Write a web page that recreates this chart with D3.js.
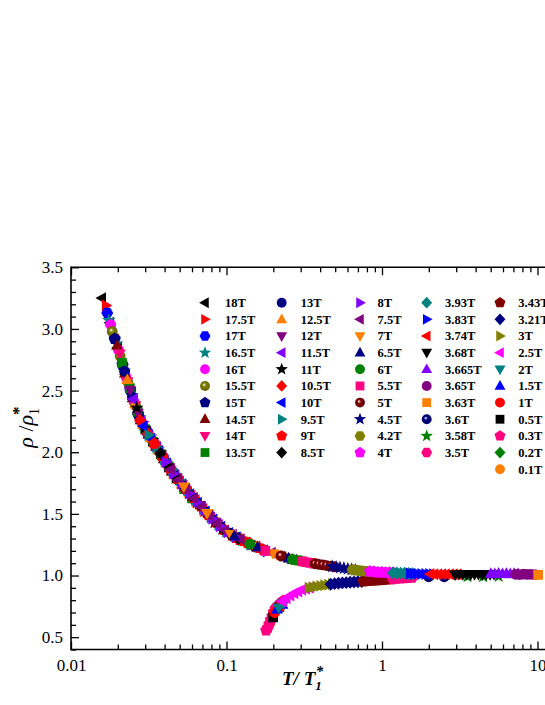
<!DOCTYPE html>
<html>
<head>
<meta charset="utf-8">
<script src="https://cdn.jsdelivr.net/npm/d3@7"></script>
<style>
body { margin: 0; background: #fff; }
text { font-family: "Liberation Serif", "Times New Roman", serif; }
</style>
</head>
<body>
<svg id="chart" width="545" height="705"></svg>
<script>
// T/T1* , rho/rho1*  (one array per field)
var b18 = [[0.0158,3.25],[0.0178,3.05],[0.0200,2.85],[0.0224,2.63],[0.0251,2.43],[0.0282,2.25],[0.0316,2.14],[0.0355,2.04]];
var b17_5 = [[0.0168,3.19],[0.0188,2.95],[0.0211,2.74],[0.0237,2.53],[0.0266,2.34],[0.0299,2.19],[0.0335,2.09],[0.0376,1.99],[0.0422,1.89]];
var b17 = [[0.0171,3.13],[0.0191,2.92],[0.0215,2.71],[0.0241,2.50],[0.0270,2.31],[0.0303,2.18],[0.0340,2.075],[0.0382,1.975],[0.0429,1.875]];
var b16_5 = [[0.0175,3.07],[0.0196,2.88],[0.0220,2.66],[0.0247,2.46],[0.0277,2.28],[0.0311,2.155],[0.0349,2.055],[0.0392,1.955],[0.0440,1.855]];
var b16 = [[0.0180,3.035],[0.0202,2.83],[0.0226,2.61],[0.0254,2.41],[0.0285,2.24],[0.0320,2.13],[0.0359,2.03],[0.0403,1.93],[0.0452,1.83]];
var b15_5 = [[0.0184,2.98],[0.0207,2.78],[0.0232,2.57],[0.0260,2.38],[0.0292,2.21],[0.0327,2.11],[0.0367,2.01],[0.0412,1.91],[0.0462,1.82],[0.0519,1.735]];
var b15 = [[0.0191,2.92],[0.0214,2.71],[0.0240,2.51],[0.0270,2.31],[0.0303,2.18],[0.0340,2.075],[0.0381,1.975],[0.0428,1.88],[0.0480,1.79],[0.0538,1.71]];
var b14_5 = [[0.0198,2.865],[0.0222,2.64],[0.0249,2.44],[0.0280,2.26],[0.0314,2.145],[0.0352,2.045],[0.0395,1.945],[0.0444,1.845],[0.0498,1.78],[0.0558,1.70]];
var b14 = [[0.0206,2.80],[0.0231,2.575],[0.0259,2.38],[0.0291,2.22],[0.0327,2.11],[0.0366,2.01],[0.0411,1.91],[0.0461,1.82],[0.0518,1.74],[0.0581,1.66]];
var b13_5 = [[0.0213,2.725],[0.0239,2.52],[0.0268,2.33],[0.0301,2.185],[0.0337,2.085],[0.0378,1.985],[0.0425,1.885],[0.0476,1.795],[0.0535,1.70],[0.0600,1.625]];
var b13 = [[0.0221,2.657],[0.0248,2.45],[0.0279,2.27],[0.0313,2.15],[0.0351,2.05],[0.0394,1.95],[0.0442,1.85],[0.0495,1.77],[0.0556,1.69],[0.0624,1.615]];
var b12_5 = [[0.0230,2.587],[0.0258,2.39],[0.0290,2.225],[0.0325,2.115],[0.0365,2.015],[0.0409,1.915],[0.0459,1.82],[0.0515,1.74],[0.0578,1.665],[0.0649,1.585],[0.0728,1.51]];
var b12 = [[0.0239,2.506],[0.0269,2.32],[0.0301,2.18],[0.0338,2.08],[0.0379,1.98],[0.0426,1.88],[0.0478,1.795],[0.0536,1.715],[0.0601,1.64],[0.0675,1.57],[0.0757,1.50],[0.0849,1.435]];
var b11_5 = [[0.0251,2.43],[0.0282,2.25],[0.0316,2.14],[0.0355,2.04],[0.0398,1.94],[0.0447,1.84],[0.0501,1.76],[0.0562,1.68],[0.0631,1.61],[0.0708,1.54],[0.0794,1.47],[0.0891,1.41]];
var b11 = [[0.0265,2.36],[0.0297,2.195],[0.0333,2.095],[0.0374,1.995],[0.0420,1.88],[0.0471,1.79],[0.0528,1.725],[0.0593,1.65],[0.0665,1.58],[0.0746,1.51],[0.0838,1.43],[0.0940,1.375]];
var b10_5 = [[0.0278,2.26],[0.0312,2.15],[0.0350,2.05],[0.0393,1.95],[0.0441,1.85],[0.0494,1.77],[0.0555,1.69],[0.0622,1.62],[0.0698,1.55],[0.0783,1.48],[0.0879,1.42],[0.0986,1.365],[0.1107,1.33],[0.1250,1.295],[0.1410,1.265]];
var b10 = [[0.0292,2.21],[0.0327,2.11],[0.0367,2.01],[0.0412,1.91],[0.0462,1.82],[0.0519,1.74],[0.0582,1.66],[0.0653,1.59],[0.0733,1.52],[0.0822,1.455],[0.0923,1.395],[0.1035,1.345],[0.1161,1.31]];
var b9_5 = [[0.0316,2.14],[0.0355,2.04],[0.0398,1.94],[0.0447,1.855],[0.0501,1.775],[0.0562,1.69],[0.0631,1.61],[0.0708,1.54],[0.0794,1.47],[0.0891,1.41],[0.1000,1.355],[0.1122,1.32],[0.1259,1.285],[0.1413,1.255]];
var b9 = [[0.0343,2.07],[0.0385,1.97],[0.0432,1.87],[0.0484,1.785],[0.0543,1.705],[0.0610,1.63],[0.0684,1.56],[0.0767,1.49],[0.0861,1.43],[0.0966,1.37],[0.1084,1.325],[0.1150,1.305],[0.1216,1.29],[0.1290,1.28],[0.1365,1.265],[0.1445,1.25],[0.1531,1.235],[0.1620,1.225],[0.1720,1.21]];
var b8_5 = [[0.0376,1.99],[0.0422,1.89],[0.0473,1.80],[0.0531,1.72],[0.0596,1.645],[0.0668,1.575],[0.0750,1.505],[0.0841,1.44],[0.0944,1.38],[0.1059,1.335],[0.1189,1.30],[0.1496,1.24]];
var b8 = [[0.0407,1.92],[0.0457,1.825],[0.0513,1.745],[0.0575,1.665],[0.0646,1.595],[0.0724,1.525],[0.0813,1.46],[0.0912,1.40],[0.1023,1.35],[0.1148,1.315],[0.1445,1.25],[0.1820,1.195]];
var b7_5 = [[0.0437,1.86],[0.0490,1.775],[0.0550,1.695],[0.0617,1.625],[0.0692,1.555],[0.0776,1.485],[0.0871,1.42],[0.0977,1.365],[0.1096,1.33],[0.1230,1.295],[0.1549,1.235],[0.1738,1.205],[0.1950,1.185]];
var b7 = [[0.0531,1.72],[0.0750,1.505],[0.1059,1.335],[0.1496,1.24],[0.1995,1.18],[0.2113,1.17],[0.2239,1.16],[0.2371,1.15],[0.2512,1.14]];
var b6_5 = [[0.1122,1.32],[0.1585,1.23],[0.2371,1.15],[0.2512,1.14],[0.2661,1.13],[0.2818,1.125]];
var b6 = [[0.1413,1.255],[0.2661,1.13],[0.2818,1.125],[0.2985,1.12],[0.3162,1.11]];
var b5_5 = [[0.1778,1.20],[0.309,1.115],[0.327,1.108],[0.347,1.102],[0.367,1.097]];
var b5 = [[0.2239,1.16],[0.3715,1.096],[0.3936,1.091],[0.4169,1.086],[0.4416,1.081],[0.4677,1.076],[0.4955,1.071]];
var b4_5 = [[0.4786,1.074],[0.5070,1.069],[0.5370,1.064],[0.5689,1.059],[0.6026,1.054],[0.6383,1.049],[0.6761,1.044]];
var b4_2 = [[0.6457,1.048],[0.6839,1.043],[0.7244,1.039],[0.7674,1.036],[0.8128,1.034],[0.8610,1.031]];
var b4 = [[0.8375,1.033],[0.8872,1.030],[0.9397,1.026],[0.9954,1.025],[1.054,1.024],[1.117,1.023],[1.183,1.021]];
var b3_93 = [[1.175,1.021],[1.245,1.020],[1.318,1.019],[1.396,1.018],[1.479,1.016],[1.567,1.015]];
var b3_83 = [[1.514,1.016],[1.603,1.015],[1.698,1.014],[1.799,1.013],[1.905,1.012],[2.018,1.012],[2.138,1.011]];
var b3_74 = [[2.042,1.012],[2.163,1.011],[2.291,1.011],[2.427,1.010],[2.570,1.010],[2.723,1.010],[2.884,1.010],[3.055,1.010]];
var b3_68 = [[2.951,1.008],[3.126,1.012],[3.311,1.009],[3.508,1.011],[3.715,1.007],[3.936,1.010],[4.169,1.012],[4.416,1.008],[4.677,1.010],[4.955,1.009],[5.248,1.011]];
var b3_665 = [[5.012,1.015],[5.309,1.012],[5.623,1.016],[5.957,1.013],[6.310,1.015],[6.683,1.012],[7.079,1.014],[7.499,1.013]];
var b3_65 = [[7.244,1.010],[7.674,1.008],[8.128,1.011],[8.610,1.009],[9.120,1.010],[9.661,1.008]];
var b3_63 = [[10.10,1.005]];
var b3_6 = [[1.995,0.990],[2.512,0.990]];
var b3_58 = [[3.548,0.992],[4.467,0.993],[5.623,0.994]];
var b3_5 = [[1.175,0.972],[1.245,0.975],[1.318,0.977],[1.396,0.980],[1.479,0.982],[1.567,0.984]];
var b3_43 = [[0.7586,0.953],[0.8035,0.956],[0.8511,0.958],[0.9016,0.960],[0.9550,0.963],[1.012,0.965],[1.072,0.968],[1.135,0.970]];
var b3_21 = [[0.4677,0.929],[0.4955,0.934],[0.5248,0.937],[0.5559,0.940],[0.5888,0.942],[0.6237,0.945],[0.6607,0.947],[0.6998,0.950],[0.7413,0.952]];
var b3 = [[0.3388,0.900],[0.3589,0.906],[0.3802,0.911],[0.4027,0.916],[0.4266,0.921],[0.4519,0.926],[0.4786,0.931]];
var b2_5 = [[0.2291,0.79],[0.2427,0.815],[0.2570,0.838],[0.2723,0.856],[0.2884,0.870],[0.3055,0.884],[0.3236,0.893],[0.3428,0.900]];
var b2 = [[0.2163,0.74],[0.2317,0.775]];
var b1_5 = [[0.2113,0.725],[0.2291,0.765]];
var b1 = [[0.2042,0.70],[0.2213,0.75]];
var b0_5 = [[0.1995,0.66],[0.2188,0.745]];
var b0_3 = [[0.1799,0.555],[0.1841,0.575],[0.1884,0.605],[0.1928,0.64],[0.1972,0.67],[0.2018,0.705],[0.2065,0.73],[0.2113,0.745],[0.2163,0.76],[0.2239,0.78],[0.2317,0.795]];
var b0_2 = [[0.1862,0.59],[0.1950,0.655],[0.2042,0.715]];
var b0_1 = [[0.1905,0.62],[0.1995,0.69],[0.2089,0.74]];

var fieldLabels = ['18T','17.5T','17T','16.5T','16T','15.5T','15T','14.5T','14T','13.5T',
    '13T','12.5T','12T','11.5T','11T','10.5T','10T','9.5T','9T','8.5T',
    '8T','7.5T','7T','6.5T','6T','5.5T','5T','4.5T','4.2T','4T',
    '3.93T','3.83T','3.74T','3.68T','3.665T','3.65T','3.63T','3.6T','3.58T','3.5T',
    '3.43T','3.21T','3T','2.5T','2T','1.5T','1T','0.5T','0.3T','0.2T','0.1T'];
var fieldData = [b18, b17_5, b17, b16_5, b16, b15_5, b15, b14_5, b14, b13_5,
    b13, b12_5, b12, b11_5, b11, b10_5, b10, b9_5, b9, b8_5,
    b8, b7_5, b7, b6_5, b6, b5_5, b5, b4_5, b4_2, b4,
    b3_93, b3_83, b3_74, b3_68, b3_665, b3_65, b3_63, b3_6, b3_58, b3_5,
    b3_43, b3_21, b3, b2_5, b2, b1_5, b1, b0_5, b0_3, b0_2, b0_1];
var xTickValues = [0.01, 0.1, 1, 10];
var xTickLabels = ['0.01', '0.1', '1', '10'];
var yTickValues = [0.5, 1.0, 1.5, 2.0, 2.5, 3.0, 3.5];

// Origin style palette and symbols
var C = {
    black: '#000000', red: '#FF0000', blue: '#0000FF', teal: '#008080', magenta: '#FF00FF',
    olive: '#808000', navy: '#000080', wine: '#800000', pink: '#FF0080', green: '#008000',
    orange: '#FF8000', purple: '#800080', violet: '#8000FF'
};
var fieldColors = ['black','red','blue','teal','magenta','olive','navy','wine','pink','green',
    'navy','orange','purple','violet','black','red','blue','teal','red','black',
    'violet','purple','orange','navy','green','pink','wine','navy','olive','magenta',
    'teal','blue','red','black','violet','purple','orange','navy','green','pink',
    'wine','navy','olive','magenta','teal','blue','red','black','pink','green','orange'];
var fieldShapes = ['ltri','rtri','hex','star','circle','sphere','pent','utri','dtri','square',
    'circle','utri','dtri','ltri','star','diamond','ltri','rtri','pent','diamond',
    'rtri','ltri','dtri','utri','circle','square','sphere','star','hex','pent',
    'diamond','rtri','ltri','dtri','utri','circle','square','sphere','star','hex',
    'pent','diamond','rtri','ltri','dtri','utri','circle','square','pent','diamond','circle'];

var svg = d3.select('#chart');
var plot = {left: 71, right: 545, top: 267.3, bottom: 649.5};

var x = d3.scaleLog().domain([0.01, 10]).range([71, 537.5]);
var y = d3.scaleLinear().domain([0.4, 3.5]).range([plot.bottom, plot.top]);

function poly(pts) {
    return 'M' + pts.map(function (p) { return p[0].toFixed(2) + ',' + p[1].toFixed(2); }).join('L') + 'Z';
}
function ngon(n, r, start) {
    var pts = [];
    for (var k = 0; k < n; k++) {
        var a = start + k * 2 * Math.PI / n;
        pts.push([r * Math.cos(a), r * Math.sin(a)]);
    }
    return pts;
}
function starPts(ro, ri) {
    var pts = [];
    for (var k = 0; k < 10; k++) {
        var a = -Math.PI / 2 + k * Math.PI / 5, r = k % 2 ? ri : ro;
        pts.push([r * Math.cos(a), r * Math.sin(a)]);
    }
    return pts;
}
var circlePath = d3.symbol().type(d3.symbolCircle).size(Math.PI * 4.7 * 4.7)();
var shapePaths = {
    circle: circlePath,
    sphere: circlePath,
    square: poly([[-4.2, -4.2], [4.2, -4.2], [4.2, 4.2], [-4.2, 4.2]]),
    utri: poly([[0, -5.6], [5.2, 3.6], [-5.2, 3.6]]),
    dtri: poly([[0, 5.6], [5.2, -3.6], [-5.2, -3.6]]),
    ltri: poly([[-5.6, 0], [3.6, -5.2], [3.6, 5.2]]),
    rtri: poly([[5.6, 0], [-3.6, -5.2], [-3.6, 5.2]]),
    diamond: poly([[0, -5.6], [5.2, 0], [0, 5.6], [-5.2, 0]]),
    pent: poly(ngon(5, 5.5, -Math.PI / 2)),
    hex: poly(ngon(6, 5.2, 0)),
    star: poly(starPts(6.2, 2.6))
};

// shaded balls
var defs = svg.append('defs');
['olive', 'wine', 'navy'].forEach(function (c) {
    var g = defs.append('radialGradient').attr('id', 'ball-' + c)
        .attr('cx', '50%').attr('cy', '50%').attr('r', '55%').attr('fx', '38%').attr('fy', '35%');
    g.append('stop').attr('offset', '0%').attr('stop-color', '#ffffff');
    g.append('stop').attr('offset', '35%').attr('stop-color', C[c]);
    g.append('stop').attr('offset', '100%').attr('stop-color', d3.color(C[c]).darker(0.8));
});
function fillOf(i) {
    return fieldShapes[i] === 'sphere' ? 'url(#ball-' + fieldColors[i] + ')' : C[fieldColors[i]];
}

defs.append('clipPath').attr('id', 'plotClip').append('rect')
    .attr('x', plot.left).attr('y', plot.top).attr('width', plot.right - plot.left).attr('height', plot.bottom - plot.top);

// low-field (metallic) branch first, then the insulating branch on top
var drawOrder = [];
for (var i = fieldLabels.length - 1; i >= 37; i--) drawOrder.push(i);
for (var i = 0; i <= 36; i++) drawOrder.push(i);

var markScale = 1.15;
var marks = svg.append('g').attr('clip-path', 'url(#plotClip)');
drawOrder.forEach(function (i) {
    marks.append('g').selectAll('path').data(fieldData[i]).enter().append('path')
        .attr('transform', function (d) { return 'translate(' + x(d[0]) + ',' + y(d[1]) + ') scale(' + markScale + ')'; })
        .attr('d', shapePaths[fieldShapes[i]])
        .style('fill', fillOf(i));
});

// axes (ticks inward)
var xMinor = [];
[0.01, 0.1, 1, 10].forEach(function (dec) {
    for (var m = 2; m <= 9; m++) xMinor.push(dec * m);
});
var yMinor = d3.range(4, 36).map(function (v) { return v / 10; })
    .filter(function (v) { return Math.abs(v * 2 - Math.round(v * 2)) > 1e-6; });

var axFont = '17px';
svg.append('g').attr('transform', 'translate(0,' + plot.bottom + ')')
    .call(d3.axisBottom(x).tickValues(xTickValues).tickSize(-8).tickPadding(9.5)
        .tickFormat(function (d, i) { return xTickLabels[i]; }));
svg.append('g').attr('transform', 'translate(0,' + plot.bottom + ')')
    .call(d3.axisBottom(x).tickValues(xMinor).tickSize(-5).tickFormat(''));
svg.append('g').attr('transform', 'translate(0,' + plot.top + ')')
    .call(d3.axisTop(x).tickValues(xTickValues).tickSize(-8).tickFormat(''));
svg.append('g').attr('transform', 'translate(0,' + plot.top + ')')
    .call(d3.axisTop(x).tickValues(xMinor).tickSize(-5).tickFormat(''));
svg.append('g').attr('transform', 'translate(' + plot.left + ',0)')
    .call(d3.axisLeft(y).tickValues(yTickValues).tickSize(-8).tickPadding(8).tickFormat(d3.format('.1f')));
svg.append('g').attr('transform', 'translate(' + plot.left + ',0)')
    .call(d3.axisLeft(y).tickValues(yMinor).tickSize(-5).tickFormat(''));

svg.selectAll('.domain').remove();
svg.selectAll('.tick line').style('stroke', '#000').style('stroke-width', 1.3);
svg.selectAll('.tick text').style('font-size', axFont).style('fill', '#000')
    .style('font-family', '"Liberation Serif", "Times New Roman", serif');

// frame
var frame = svg.append('g').style('stroke', '#000').style('stroke-width', 1.6);
frame.append('line').attr('x1', plot.left).attr('x2', plot.left).attr('y1', plot.top - 0.8).attr('y2', plot.bottom + 0.8);
frame.append('line').attr('x1', plot.left).attr('x2', plot.right + 10).attr('y1', plot.top).attr('y2', plot.top);
frame.append('line').attr('x1', plot.left).attr('x2', plot.right + 10).attr('y1', plot.bottom).attr('y2', plot.bottom);

// legend (last column runs past the right edge, as in the original crop)
var legCol = [205, 281.7, 360, 426.7, 500];
var legTxt = [225, 300.7, 377.5, 445, 518.3];
var legY0 = 302.7, legDy = 16.65;
var leg = svg.append('g');
fieldLabels.forEach(function (lab, i) {
    var col = i < 40 ? Math.floor(i / 10) : 4;
    var row = i < 40 ? i % 10 : i - 40;
    var cy = legY0 + row * legDy;
    leg.append('path').attr('transform', 'translate(' + legCol[col] + ',' + cy + ') scale(1.05)')
        .attr('d', shapePaths[fieldShapes[i]]).style('fill', fillOf(i));
    leg.append('text').attr('x', legTxt[col]).attr('y', cy).attr('dy', '0.35em')
        .style('font-size', '12.5px').style('font-weight', 'bold').text(lab);
});

// axis titles
var xl = svg.append('text').attr('x', 282).attr('y', 685)
    .style('font-size', '19px').style('font-weight', 'bold').style('font-style', 'italic');
xl.append('tspan').text('T/ T');
xl.append('tspan').attr('dy', 5).style('font-size', '13px').text('1');
xl.append('tspan').attr('dy', -14).attr('dx', -6).style('font-size', '15px').text('*');

var yl = svg.append('text').attr('transform', 'translate(33,427) rotate(-90)')
    .attr('text-anchor', 'middle').style('font-size', '22px');
yl.append('tspan').style('font-style', 'italic').text('ρ');
yl.append('tspan').text(' /');
yl.append('tspan').style('font-style', 'italic').text('ρ');
yl.append('tspan').attr('dy', 6).style('font-size', '14px').text('1');
yl.append('tspan').attr('dy', -15).attr('dx', -7).style('font-size', '17px').style('font-weight', 'bold').text('*');
</script>
</body>
</html>
